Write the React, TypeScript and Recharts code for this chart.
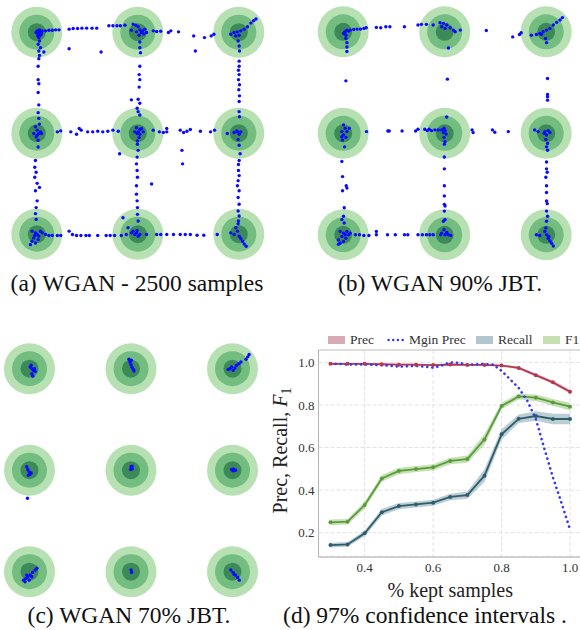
import React from 'react';
import {
  ScatterChart, Scatter, XAxis, YAxis, ComposedChart, Area, Line,
  CartesianGrid, Legend, ReferenceLine,
} from 'recharts';

const SERIF = 'Liberation Serif, DejaVu Serif, serif';

// ---------- Gaussian mixture grid (3x3) ----------
const GRID = [-300, 0, 300];
const RING_RADII = [25.5, 17.5, 9];
const RING_COLORS = ['#b7e1b2', '#72bd7f', '#3b8a58'];

// samples (same units as GRID)
const SAMPLES_WGAN_2500: [number, number][] = [
  [-299,-304],[-294,-299],[-289,-302],[-296,-294],[-286,-296],[-292,-307],[-302,-299],[-284,-304],[-297,-289],[-289,-291],
  [-274,-304],[-264,-306],[-254,-306],[-244,-307],[-234,-307],
  [-294,-284],[-292,-274],[-296,-264],[-289,-254],[-294,-244],[-279,-241],[-292,-231],[-294,-221],[-296,-199],
  [-204,-309],[-192,-311],[-179,-311],[-166,-312],[-152,-312],[-136,-312],[-122,-312],[-86,-319],[-74,-319],[-62,-319],[-52,-319],[-38,-321],[-204,-251],[-109,-241],
  [-14,-324],[-6,-321],[1,-316],[6,-307],[11,-299],[18,-295],[26,-299],[4,-291],[-4,-301],[-19,-306],[21,-309],[14,-304],
  [46,-304],[56,-302],[68,-303],[91,-299],[98,-304],[121,-301],
  [166,-289],[198,-284],[171,-244],[218,-289],[226,-294],
  [6,-271],[6,-254],[8,-239],[6,-199],[4,-174],[6,-159],[4,-137],[1,-101],[-19,-99],[6,-89],[-2,-74],[1,-64],[6,-54],
  [276,-294],[286,-299],[296,-301],[306,-304],[316,-309],[326,-316],[336,-327],[344,-334],[351,-339],[291,-289],[301,-291],[298,-274],[301,-259],[302,-244],
  [301,-214],[301,-199],[299,-187],[301,-174],[299,-159],[302,-144],[300,-129],[302,-111],[301,-94],[301,-64],[302,-49],
  [-296,-159],[-294,-147],[-296,-121],[-294,-84],[-296,-61],[-294,-44],
  [-304,-19],[-299,-9],[-294,1],[-302,11],[-296,21],[-289,-4],[-309,1],[-296,41],[-292,-27],[-299,6],[-286,1],
  [-239,-4],[-229,-7],[-199,-4],[-182,3],[-174,-14],[-168,-9],[-149,-4],[-134,-4],[-119,-6],[-104,-4],[-89,-6],[-74,-9],[-58,-6],
  [1,-4],[6,-11],[-4,-16],[6,3],[4,13],[-1,23],[-9,-4],[16,-4],[11,-14],[-2,1],
  [46,-9],[64,-4],[76,-2],[86,-4],[86,-14],[126,-9],[136,-2],[146,-6],[156,-11],[186,-6],[216,-4],[228,-9],
  [131,51],[133,91],[-54,61],[41,151],
  [266,1],[286,-2],[296,-4],[306,-4],[301,3],[298,19],[301,36],[304,61],[301,81],[299,93],[294,-7],
  [299,111],[301,126],[298,141],[296,156],[301,171],[298,191],[301,211],[298,231],[301,246],[299,261],
  [-304,81],[-306,101],[-302,116],[-306,131],[-299,149],[-292,161],[-304,171],[-299,201],[-302,221],[-304,239],[-302,256],
  [-314,291],[-304,296],[-299,301],[-294,306],[-309,311],[-314,321],[-304,326],[-319,331],[-289,291],[-284,296],[-306,304],[-296,316],
  [-274,301],[-264,304],[-254,304],[-239,304],[-229,304],
  [-204,291],[-194,301],[-182,304],[-169,304],[-154,304],[-144,304],[-119,304],[-94,304],[-82,304],[-69,304],[-49,304],[-34,301],[-44,251],
  [-1,33],[1,51],[-2,71],[-4,91],[-2,111],[-1,131],[-4,156],[-4,181],[-2,201],[-1,221],[-1,241],[1,261],
  [-14,291],[-4,296],[-9,301],[-19,296],[-29,281],[1,306],[6,301],[-2,289],
  [26,301],[56,301],[68,301],[86,301],[106,301],[126,301],[141,301],[156,301],[176,303],[196,303],[236,301],
  [276,296],[286,301],[296,291],[301,306],[306,313],[311,321],[316,329],[322,336],[291,281],[298,269],
];

const SAMPLES_JBT_90: [number, number][] = [
  [-294,-300],[-289,-305],[-299,-295],[-284,-302],[-292,-290],[-279,-305],[-269,-307],[-259,-308],[-249,-308],[-239,-310],[-232,-312],
  [-292,-280],[-289,-268],[-289,-255],[-289,-242],[-296,-298],
  [-202,-313],[-189,-312],[-174,-315],[-162,-315],[-119,-315],[-79,-320],[-69,-322],[-54,-322],[-34,-320],
  [-14,-327],[-4,-325],[6,-320],[16,-312],[26,-305],[31,-300],[1,-310],[-9,-315],[46,-305],[11,-252],
  [123,-304],[201,-285],[221,-292],[226,-297],
  [256,-290],[271,-292],[281,-295],[291,-300],[301,-305],[311,-310],[321,-320],[331,-328],[341,-335],[348,-342],[298,-280],[301,-268],[286,-292],
  [-292,-155],[8,-160],[304,-162],[304,-115],[304,-108],[304,-98],
  [-299,-25],[-294,-15],[-304,-5],[-299,5],[-292,12],[-302,20],[-296,40],[-289,-5],[-282,-15],[-304,10],
  [-231,-5],[-168,-7],[-164,-7],[-126,-7],[-86,-7],[-79,-12],[-59,-12],[-52,-8],[-46,-12],[-39,-8],[-29,-10],[-19,-10],
  [-2,-15],[1,-8],[-4,-2],[4,2],[-2,12],[1,25],[-1,32],[6,-48],[-9,-10],
  [81,-10],[84,-2],[141,-10],[148,-3],[188,-5],
  [276,-5],[266,-10],[296,-5],[306,-8],[311,-2],[301,5],[299,18],[304,30],[301,40],[304,50],[294,0],
  [-304,83],[-302,128],[-291,155],[-289,162],[-302,170],[-297,220],[-299,245],[-304,255],[-297,265],
  [-1,70],[-1,105],[-1,155],[-1,185],[-1,210],[1,215],[-1,230],[1,255],
  [301,85],[301,105],[303,115],[299,130],[301,155],[301,175],[301,200],[303,208],[301,230],[304,245],[301,260],
  [-309,290],[-299,295],[-294,300],[-304,305],[-314,315],[-309,325],[-299,320],[-289,290],[-284,300],[-279,295],[-314,328],[-292,310],
  [-264,300],[-252,300],[-239,302],[-224,302],[-202,290],[-202,300],[-169,300],[-146,300],[-119,300],[-109,300],[-79,300],[-66,300],[-54,300],[-44,300],[-34,300],
  [-9,295],[-2,285],[1,300],[6,293],[11,300],[18,302],[-12,300],[-4,260],
  [271,300],[281,302],[296,290],[301,300],[306,310],[311,318],[316,325],[321,333],[299,280],[308,305],
];

const SAMPLES_JBT_70: [number, number][] = [
  [-298,-305],[-293,-300],[-288,-295],[-283,-292],[-293,-285],[-290,-278],[-295,-310],[-285,-300],
  [-6,-328],[-3,-320],[0,-312],[3,-304],[7,-298],[9,-293],[1,-325],
  [292,-300],[297,-305],[302,-295],[307,-302],[312,-310],[319,-315],[325,-320],[340,-328],[345,-335],[349,-342],[287,-298],
  [-308,-10],[-305,-2],[-301,5],[-298,12],[-303,15],[-295,8],[-306,83],
  [0,-10],[4,-4],[-1,-2],[3,-12],
  [297,-2],[303,-4],[309,0],[302,2],
  [-318,325],[-311,320],[-305,315],[-298,310],[-291,302],[-283,295],[-278,290],[-313,330],[-301,325],[-293,315],[-308,310],
  [0,295],[2,302],
  [295,295],[302,302],[309,310],[315,317],[320,325],[305,308],
];

// ---------- Precision / recall curves ----------
const KEPT = [0.3, 0.35, 0.4, 0.45, 0.5, 0.55, 0.6, 0.65, 0.7, 0.75, 0.8, 0.85, 0.9, 0.95, 1.0];
const PREC = [0.993, 0.993, 0.993, 0.991, 0.989, 0.989, 0.987, 0.99, 0.988, 0.988, 0.985, 0.974, 0.94, 0.906, 0.862];
const PREC_CI = [0.004, 0.004, 0.004, 0.004, 0.004, 0.004, 0.004, 0.004, 0.004, 0.004, 0.005, 0.007, 0.008, 0.009, 0.01];
const RECALL = [0.142, 0.145, 0.197, 0.296, 0.325, 0.333, 0.341, 0.368, 0.377, 0.468, 0.662, 0.735, 0.748, 0.734, 0.734];
const RECALL_CI = [0.011, 0.011, 0.014, 0.015, 0.015, 0.014, 0.014, 0.015, 0.017, 0.03, 0.024, 0.02, 0.022, 0.025, 0.025];
const F1 = [0.249, 0.252, 0.33, 0.455, 0.49, 0.499, 0.507, 0.537, 0.546, 0.638, 0.795, 0.84, 0.834, 0.812, 0.792];
const F1_CI = [0.013, 0.013, 0.016, 0.016, 0.015, 0.014, 0.015, 0.015, 0.017, 0.025, 0.015, 0.014, 0.015, 0.016, 0.018];

const MGIN_KEPT = [0.3, 0.325, 0.35, 0.375, 0.4, 0.425, 0.45, 0.475, 0.5, 0.525, 0.55, 0.575, 0.6, 0.625, 0.65, 0.675, 0.7, 0.725, 0.75, 0.775, 0.8, 0.825, 0.85, 0.875, 0.9, 0.925, 0.95, 0.975, 1.0];
const MGIN_PREC = [0.993, 0.993, 0.99, 0.99, 0.99, 0.988, 0.986, 0.984, 0.98, 0.982, 0.983, 0.98, 0.975, 0.985, 1.0, 0.998, 0.99, 0.99, 0.992, 0.99, 0.96, 0.92, 0.88, 0.82, 0.735, 0.595, 0.46, 0.34, 0.215];

const X_TICKS = [0.4, 0.6, 0.8, 1.0];
const Y_TICKS = [0.2, 0.4, 0.6, 0.8, 1.0];
const X_DOMAIN = [0.265, 1.035];
const Y_DOMAIN = [0.086, 1.058];

// legend entries with horizontal slot offsets (px from legend box left)
const LEGEND_ITEMS = [
  { label: 'Prec', kind: 'patch', color: '#d9aab6', slot: 49.5 },
  { label: 'Mgin Prec', kind: 'dots', color: '#3535ff', slot: 108.5 },
  { label: 'Recall', kind: 'patch', color: '#b3c5cd', slot: 197.5 },
  { label: 'F1', kind: 'patch', color: '#c6e0b4', slot: 264.5 },
];

const CAPTIONS = [
  { text: '(a) WGAN - 2500 samples', cx: 137, baseline: 291 },
  { text: '(b) WGAN 90% JBT.', cx: 440, baseline: 291 },
  { text: '(c) WGAN 70% JBT.', cx: 129, baseline: 623 },
  { text: '(d) 97% confidence intervals .', cx: 425, baseline: 623 },
];

const GAUSS_CENTERS = GRID.flatMap((gy) => GRID.map((gx) => ({ x: gx, y: gy })));

const curveRows = KEPT.map((k, i) => ({
  x: k,
  prec: PREC[i],
  precBand: [PREC[i] - PREC_CI[i], PREC[i] + PREC_CI[i]],
  recall: RECALL[i],
  recallBand: [RECALL[i] - RECALL_CI[i], RECALL[i] + RECALL_CI[i]],
  f1: F1[i],
  f1Band: [F1[i] - F1_CI[i], F1[i] + F1_CI[i]],
}));
const mginRows = MGIN_KEPT.map((k, i) => ({ x: k, mgin: MGIN_PREC[i] }));

type PanelProps = {
  left: number; top: number; width: number; height: number;
  midX: number; midY: number; pxPerUnit: number; samples: [number, number][];
};

function GaussPanel({ left, top, width, height, midX, midY, pxPerUnit, samples }: PanelProps) {
  const xDomain = [(left - midX) / pxPerUnit, (left + width - midX) / pxPerUnit];
  const yDomain = [(top - midY) / pxPerUnit, (top + height - midY) / pxPerUnit];
  const pts = samples.map(([x, y]) => ({ x, y }));
  return (
    <div style={{ position: 'absolute', left, top, width, height }}>
      <ScatterChart width={width} height={height} margin={{ top: 0, right: 0, bottom: 0, left: 0 }}>
        <XAxis type="number" dataKey="x" domain={xDomain} hide allowDataOverflow />
        <YAxis type="number" dataKey="y" domain={yDomain} hide reversed allowDataOverflow />
        <Scatter
          data={GAUSS_CENTERS}
          isAnimationActive={false}
          shape={(p: any) => (
            <g>
              {RING_RADII.map((r, i) => (
                <circle key={i} cx={p.cx} cy={p.cy} r={r} fill={RING_COLORS[i]} />
              ))}
            </g>
          )}
        />
        <Scatter
          data={pts}
          isAnimationActive={false}
          shape={(p: any) => <circle cx={p.cx} cy={p.cy} r={1.7} fill="#0a0aff" />}
        />
      </ScatterChart>
    </div>
  );
}

function LegendContent() {
  return (
    <div style={{ position: 'relative', height: 20, fontFamily: SERIF, fontSize: 13.5, color: '#333', whiteSpace: 'nowrap' }}>
      {LEGEND_ITEMS.map((it) => (
        <div key={it.label} style={{ position: 'absolute', left: it.slot, top: 0, height: 20, display: 'flex', alignItems: 'center' }}>
          <svg width={17} height={10} style={{ marginRight: 5 }}>
            {it.kind === 'patch' ? (
              <rect x={0} y={1} width={17} height={8} fill={it.color} />
            ) : (
              <line x1={1.5} y1={5} x2={16} y2={5} stroke={it.color} strokeWidth={2.4} strokeDasharray="0.1 4.6" strokeLinecap="round" />
            )}
          </svg>
          <span>{it.label}</span>
        </div>
      ))}
    </div>
  );
}

function XLabel(props: any) {
  const vb = props.viewBox;
  return (
    <text x={vb.x + vb.width / 2} y={vb.y + 40} textAnchor="middle" fontFamily={SERIF} fontSize={20} fill="#222">
      % kept samples
    </text>
  );
}

function YLabel(props: any) {
  const vb = props.viewBox;
  const x = vb.x + 8;
  const y = vb.y + vb.height / 2 - 3;
  return (
    <text x={x} y={y} transform={`rotate(-90, ${x}, ${y})`} textAnchor="middle" fontFamily={SERIF} fontSize={20} fill="#222">
      Prec, Recall, <tspan fontStyle="italic">F</tspan>
      <tspan fontSize={14} dy={4}>1</tspan>
    </text>
  );
}

function CurvesPanel() {
  const tick = { fontFamily: SERIF, fontSize: 13, fill: '#333' };
  return (
    <div style={{ position: 'absolute', left: 230, top: 300 }}>
      <ComposedChart width={360} height={320} data={curveRows} margin={{ top: 30, right: 8, bottom: 33, left: 48.5 }}>
        <CartesianGrid stroke="#e2e2e2" strokeDasharray="4 2" />
        <XAxis
          dataKey="x" type="number" domain={X_DOMAIN} ticks={X_TICKS} allowDataOverflow
          tickFormatter={(v: number) => v.toFixed(1)} tickLine={false} tickSize={0} tickMargin={6}
          axisLine={{ stroke: '#a8a8a8' }} tick={tick} height={30} label={XLabel}
        />
        <YAxis
          type="number" domain={Y_DOMAIN} ticks={Y_TICKS} allowDataOverflow
          tickFormatter={(v: number) => v.toFixed(1)} tickLine={false} tickSize={0} tickMargin={4}
          axisLine={{ stroke: '#b5b5b5' }} tick={tick} width={40} label={YLabel}
        />
        <Legend verticalAlign="top" height={20} content={LegendContent} />
        <ReferenceLine y={Y_DOMAIN[1]} stroke="#d6d6d6" strokeWidth={1.6} />
        <Area dataKey="precBand" stroke="none" fill="#c77388" fillOpacity={0.4} isAnimationActive={false} dot={false} activeDot={false} />
        <Area dataKey="recallBand" stroke="none" fill="#5f8898" fillOpacity={0.42} isAnimationActive={false} dot={false} activeDot={false} />
        <Area dataKey="f1Band" stroke="none" fill="#8cc46c" fillOpacity={0.5} isAnimationActive={false} dot={false} activeDot={false} />
        <Line dataKey="prec" stroke="#b13a50" strokeWidth={1.8} dot={{ r: 2, fill: '#b13a50', stroke: '#b13a50', strokeWidth: 0 }} activeDot={false} isAnimationActive={false} />
        <Line dataKey="recall" stroke="#2e5d6b" strokeWidth={1.8} dot={{ r: 2, fill: '#2e5d6b', stroke: '#2e5d6b', strokeWidth: 0 }} activeDot={false} isAnimationActive={false} />
        <Line dataKey="f1" stroke="#5a9c3a" strokeWidth={1.8} dot={{ r: 2, fill: '#5a9c3a', stroke: '#5a9c3a', strokeWidth: 0 }} activeDot={false} isAnimationActive={false} />
        <Line data={mginRows} dataKey="mgin" stroke="#3535ff" strokeWidth={2.6} strokeDasharray="0.1 5" strokeLinecap="round" dot={false} activeDot={false} isAnimationActive={false} />
      </ComposedChart>
    </div>
  );
}

export default function App() {
  return (
    <div style={{ position: 'relative', width: 580, height: 630, overflow: 'hidden', background: '#fff' }}>
      <style>{'body{margin:0}'}</style>
      <GaussPanel left={5} top={0} width={280} height={262} midX={137.8} midY={133.2} pxPerUnit={101 / 300} samples={SAMPLES_WGAN_2500} />
      <GaussPanel left={300} top={0} width={280} height={262} midX={444.7} midY={133.3} pxPerUnit={101.5 / 300} samples={SAMPLES_JBT_90} />
      <GaussPanel left={0} top={335} width={270} height={265} midX={131} midY={470.2} pxPerUnit={101.5 / 300} samples={SAMPLES_JBT_70} />
      <CurvesPanel />
      <svg width={580} height={630} style={{ position: 'absolute', left: 0, top: 0, pointerEvents: 'none' }}>
        {CAPTIONS.map((c) => (
          <text key={c.text} x={c.cx} y={c.baseline} textAnchor="middle" fontFamily={SERIF} fontSize={23.5} fill="#111">
            {c.text}
          </text>
        ))}
      </svg>
    </div>
  );
}
